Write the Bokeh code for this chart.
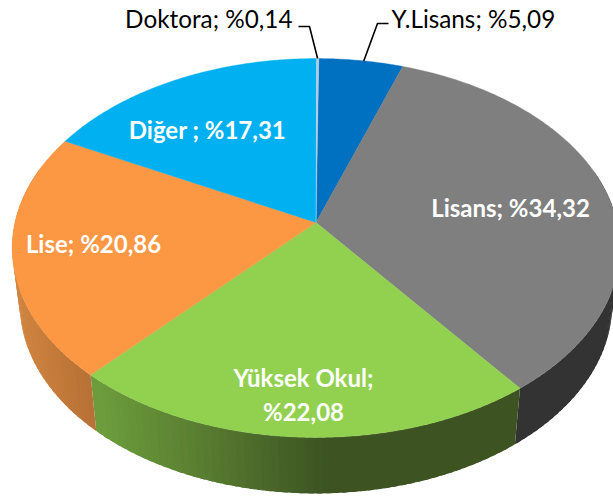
import numpy as np
from bokeh.plotting import figure
from bokeh.models import Range1d
from bokeh.core.properties import value
from bokeh.embed import file_html
from bokeh.resources import INLINE

# ---- data, clockwise from twelve o'clock
categories = ["Y.Lisans", "Lisans", "Yüksek Okul", "Lise", "Diğer", "Doktora"]
shares = [5.09, 34.32, 22.08, 20.86, 17.31, 0.14]
label_texts = ["Y.Lisans; %5,09", "Lisans; %34,32", "Yüksek Okul;\n%22,08",
               "Lise; %20,86", "Diğer ; %17,31", "Doktora; %0,14"]

# ---- styles
top_colors = ["#0070c0", "#7f7f7f", "#92d050", "#fc9744", "#00b0f0", "#b4cde6"]
# side colour stops: (screen x, rgb)
side_stops = {
    "Y.Lisans": [(0, (0, 60, 110)), (613, (0, 60, 110))],
    "Lisans": [(0, (51, 51, 51)), (613, (51, 51, 51))],
    "Yüksek Okul": [(97, (108, 156, 60)), (200, (88, 124, 48)), (320, (61, 84, 34)), (613, (61, 84, 34))],
    "Lise": [(15, (208, 132, 64)), (97, (180, 110, 52))],
    "Diğer": [(0, (0, 90, 130)), (613, (0, 90, 130))],
    "Doktora": [(0, (100, 120, 140)), (613, (100, 120, 140))],
}

# ---- projection of the tilted disc to page pixels
CX, CY = 315.5, 222.0
A, B, K = 301.0, 186.0, -0.1346
DEPTH, SHRINK = 56.0, 0.975
ROT = np.radians(0.6)


def project(theta):
    u, v = np.sin(theta + ROT), -np.cos(theta + ROT)
    d = 1 + K * v
    return CX + A * u / d, CY + B * v / d


def lower(x, y):
    return CX + (x - CX) * SHRINK, y + DEPTH


def side_color(name, x):
    stops = side_stops[name]
    xs = [s[0] for s in stops]
    rgb = [int(round(np.interp(x, xs, [s[1][i] for s in stops]))) for i in range(3)]
    return "#%02x%02x%02x" % tuple(rgb)


fractions = np.array(shares) / sum(shares)
edges = np.concatenate([[0], np.cumsum(fractions)]) * 2 * np.pi

p = figure(width=613, height=498, x_range=Range1d(0, 613), y_range=Range1d(498, 0),
           output_backend="svg", toolbar_location=None, min_border=0)
p.axis.visible = False
p.grid.visible = False
p.outline_line_color = None
p.background_fill_color = "white"
p.border_fill_color = "white"

# side wall: thin overlapping strips across the near half of the disc
sx, sy, sc = [], [], []
for i, name in enumerate(categories):
    n = max(2, int(np.degrees(edges[i + 1] - edges[i]) * 0.7))
    th = np.linspace(edges[i], edges[i + 1], n + 1)
    step = th[1] - th[0]
    for a, b in zip(th[:-1], th[1:]):
        if -np.cos((a + b) / 2) < -0.3:
            continue
        arc = np.linspace(a, min(b + 0.6 * step, edges[i + 1]), 4)
        x0, y0 = project(arc)
        x1, y1 = lower(x0, y0)
        sx.append(np.r_[x0, x1[::-1]])
        sy.append(np.r_[y0, y1[::-1]])
        sc.append(side_color(name, x0.mean()))
p.patches(sx, sy, fill_color=sc, line_color=None)

# top face
for i, name in enumerate(categories):
    th = np.linspace(edges[i], edges[i + 1], max(3, int(np.degrees(edges[i + 1] - edges[i]) * 2)))
    x, y = project(th)
    p.patch(np.r_[CX, x], np.r_[CY, y], fill_color=top_colors[i],
            line_color=top_colors[i], line_width=0.4)

# leader lines for the two outside labels
i_y, i_d = categories.index("Y.Lisans"), categories.index("Doktora")
lx, ly = project((edges[i_y] + edges[i_y + 1]) * 0.5 + 0.01)
p.line([lx, 377, 388], [ly, 23, 23], line_color="#000000", line_width=1.6)
lx, ly = project((edges[i_d] + edges[i_d + 1]) * 0.5)
p.line([lx, 309, 298], [ly, 26, 26], line_color="#000000", line_width=1.6)

# labels
FONT = value("Lato")
outer_pos = {"Y.Lisans": (391, 18), "Doktora": (292, 18)}
inner_pos = {"Lisans": (510, 207), "Yüksek Okul": (303, 394), "Lise": (93, 243), "Diğer": (207, 129)}
p.text([outer_pos["Y.Lisans"][0]], [outer_pos["Y.Lisans"][1]], text=[label_texts[0]], text_font=FONT,
       text_font_size="24.3px", text_color="#000000", text_align="left", text_baseline="middle")
p.text([outer_pos["Doktora"][0]], [outer_pos["Doktora"][1]], text=[label_texts[5]], text_font=FONT,
       text_font_size="24.3px", text_color="#000000", text_align="right", text_baseline="middle")
for name, (x, y) in inner_pos.items():
    p.text([x], [y], text=[label_texts[categories.index(name)]], text_font=FONT, text_font_style="bold",
           text_font_size="24px", text_color="#ffffff", text_align="center", text_baseline="middle",
           text_line_height=1.2)

open("out.html", "w").write(file_html(p, INLINE))
